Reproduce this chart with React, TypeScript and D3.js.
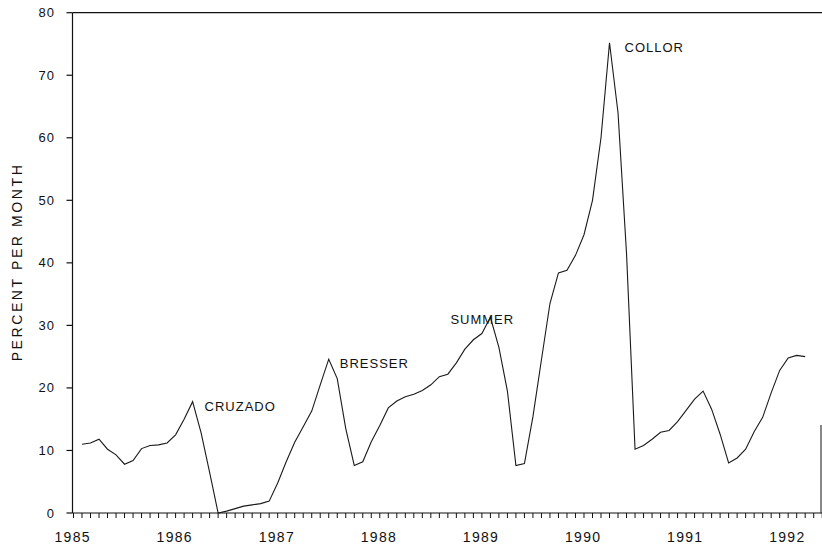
import React from "react";
import * as d3 from "d3";

// Monthly inflation, index 0 = Jan 1985
const values: number[] = [
  11.0, 11.2, 11.8, 10.2, 9.3, 7.8, 8.4, 10.3, 10.8, 10.9, 11.2, 12.5,
  15.0, 17.8, 12.8, 6.5, 0.0, 0.3, 0.7, 1.1, 1.3, 1.5, 1.9, 4.8,
  8.2, 11.3, 13.8, 16.3, 20.5, 24.6, 21.5, 13.5, 7.6, 8.2, 11.4, 14.0,
  16.8, 17.9, 18.6, 19.0, 19.6, 20.5, 21.8, 22.2, 24.0, 26.2, 27.7, 28.7,
  31.3, 26.5, 19.5, 7.6, 7.9, 15.4, 24.5, 33.5, 38.4, 38.8, 41.2, 44.5,
  50.0, 60.0, 75.2, 64.0, 41.5, 10.2, 10.8, 11.8, 12.9, 13.2, 14.6, 16.4,
  18.2, 19.5, 16.6, 12.6, 8.0, 8.8, 10.2, 13.0, 15.3, 19.2, 22.8, 24.8,
  25.2, 25.0,
];

const yearLabels: string[] = ["1985", "1986", "1987", "1988", "1989", "1990", "1991", "1992"];
const yTicks: number[] = [0, 10, 20, 30, 40, 50, 60, 70, 80];

const annotations: { text: string; index: number }[] = [
  { text: "CRUZADO", index: 13 },
  { text: "BRESSER", index: 29 },
  { text: "SUMMER", index: 48 },
  { text: "COLLOR", index: 62 },
];

export default function App() {
  const W = 822;
  const H = 546;
  const x = d3.scaleLinear().domain([0, 85]).range([82, 805.2]);
  const y = d3.scaleLinear().domain([0, 80]).range([513, 12.7]);
  const axisX = 72.5;
  const rightX = 821;

  const line = d3
    .line<number>()
    .x((_, i) => x(i))
    .y((d) => y(d));

  const minorTicks = d3.range(-1, 88);
  const font = "'Liberation Sans', Arial, sans-serif";

  const annOffsets: Record<string, { dx: number; dy: number }> = {
    CRUZADO: { dx: 12, dy: 9 },
    BRESSER: { dx: 11, dy: 9 },
    SUMMER: { dx: -40, dy: 7 },
    COLLOR: { dx: 15, dy: 9 },
  };

  return (
    <svg
      width={W}
      height={H}
      style={{ position: "absolute", left: 0, top: 0, background: "#fff" }}
      fontFamily={font}
    >
      <rect x={0} y={0} width={W} height={H} fill="#fff" />
      {/* frame */}
      <line x1={axisX} x2={W} y1={y(80)} y2={y(80)} stroke="#111" strokeWidth={1.2} />
      <line x1={axisX} x2={axisX} y1={y(80)} y2={y(0)} stroke="#111" strokeWidth={1.2} />
      <line x1={axisX} x2={W} y1={y(0)} y2={y(0)} stroke="#111" strokeWidth={1.2} />
      <line x1={rightX} x2={rightX} y1={425} y2={y(0)} stroke="#111" strokeWidth={1} />

      {/* y ticks */}
      {yTicks.map((t) => (
        <g key={t}>
          <line x1={axisX - 6} x2={axisX} y1={y(t)} y2={y(t)} stroke="#111" strokeWidth={1.2} />
          <text
            x={55}
            y={y(t)}
            dy="0.35em"
            textAnchor="end"
            fontSize={13}
            letterSpacing={1}
            fill="#111"
          >
            {t}
          </text>
        </g>
      ))}

      {/* x minor ticks */}
      {minorTicks.map((m) => (
        <line
          key={m}
          x1={x(m)}
          x2={x(m)}
          y1={y(0)}
          y2={y(0) + 5}
          stroke="#111"
          strokeWidth={1}
        />
      ))}

      {/* year labels */}
      {yearLabels.map((lab, k) => (
        <text
          key={lab}
          x={x(12 * k - 1.1)}
          y={542}
          textAnchor="middle"
          fontSize={14}
          letterSpacing={1.3}
          fill="#111"
        >
          {lab}
        </text>
      ))}

      {/* axis title */}
      <text
        transform={`translate(22, 262) rotate(-90)`}
        textAnchor="middle"
        fontSize={14}
        letterSpacing={2.6}
        fill="#111"
      >
        PERCENT PER MONTH
      </text>

      {/* data line */}
      <path d={line(values) ?? ""} fill="none" stroke="#1a1a1a" strokeWidth={1.1} />

      {/* annotations */}
      {annotations.map((a) => (
        <text
          key={a.text}
          x={x(a.index) + annOffsets[a.text].dx}
          y={y(values[a.index]) + annOffsets[a.text].dy}
          fontSize={13}
          letterSpacing={1}
          fill="#111"
        >
          {a.text}
        </text>
      ))}
    </svg>
  );
}
